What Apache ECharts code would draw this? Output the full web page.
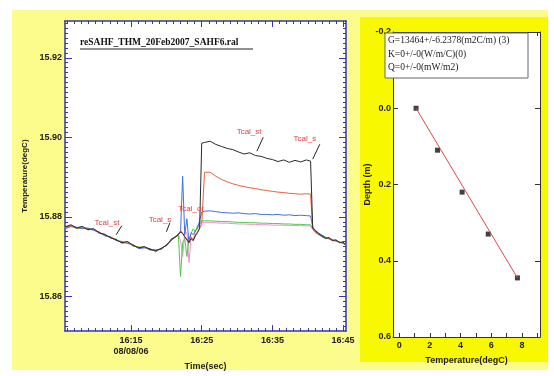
<!DOCTYPE html>
<html><head><meta charset="utf-8">
<script src="https://cdn.jsdelivr.net/npm/echarts@6/dist/echarts.min.js"></script>
<style>html,body{margin:0;padding:0;background:#fff}#c{width:554px;height:376px}</style>
</head><body><div id="c"></div>
<script>
// ---- data (time in minutes after 16:00) ----
const timeMin = [5.7,6.5,7.3,8.1,8.9,9.7,10.5,11.3,12.1,12.9,13.7,14.5,15.3,16.1,16.9,17.7,18.5,19.3,20.1,20.7,21.3,21.7,
22.0,22.3,22.6,22.9,23.2,23.5,23.8,24.1,24.4,24.7,
25.0,25.4,
26.2,27.0,27.8,28.6,29.4,30.2,31.0,31.8,32.6,33.4,34.2,35.0,35.8,36.6,37.4,38.2,39.0,39.8,
40.4,40.7,41.0,41.5,42.0,42.5,43.0,43.5,44.0,44.5,45.0,45.3];
const tBlack = [15.8775,15.8780,15.8772,15.8776,15.8768,15.8770,15.8760,15.8755,15.8748,15.8742,15.8735,15.8738,15.8728,15.8722,15.8725,15.8718,15.8715,15.8720,15.8730,15.8742,15.8750,15.8755,
15.8762,15.8758,15.8750,15.8742,15.8735,15.8745,15.8740,15.8752,15.8760,15.8770,
15.8985,15.8987,
15.8990,15.8982,15.8977,15.8972,15.8969,15.8963,15.8958,15.8961,15.8954,15.8952,15.8947,15.8944,15.8939,15.8943,15.8937,15.8942,15.8938,15.8943,
15.8940,15.8772,15.8766,15.8758,15.8752,15.8746,15.8748,15.8740,15.8742,15.8735,15.8737,15.8730];
const tRed = [15.8773,15.8777,15.8771,15.8774,15.8767,15.8769,15.8761,15.8754,15.8747,15.8743,15.8734,15.8737,15.8727,15.8723,15.8724,15.8717,15.8716,15.8719,15.8731,15.8741,15.8749,15.8754,
15.8765,15.8760,15.8748,15.8745,15.8738,15.8748,15.8742,15.8755,15.8762,15.8772,
15.8780,15.8912,
15.8912,15.8902,15.8894,15.8888,15.8883,15.8879,15.8876,15.8873,15.8871,15.8868,15.8866,15.8864,15.8862,15.8861,15.8859,15.8858,15.8857,15.8858,
15.8857,15.8770,15.8764,15.8757,15.8750,15.8747,15.8745,15.8741,15.8740,15.8736,15.8734,15.8731];
const tBlue = [15.8770,15.8776,15.8774,15.8770,15.8772,15.8766,15.8762,15.8752,15.8750,15.8740,15.8738,15.8733,15.8730,15.8720,15.8722,15.8720,15.8712,15.8722,15.8728,15.8745,15.8748,15.8758,
15.8760,15.8902,15.8755,15.8795,15.8735,15.8760,15.8755,15.8765,15.8770,15.8790,
15.8812,15.8814,
15.8815,15.8813,15.8811,15.8810,15.8809,15.8810,15.8808,15.8807,15.8808,15.8806,15.8806,15.8805,15.8806,15.8804,15.8805,15.8803,15.8804,15.8803,
15.8802,15.8775,15.8767,15.8760,15.8754,15.8749,15.8745,15.8743,15.8739,15.8737,15.8733,15.8731];
const tGreen = [15.8772,15.8778,15.8770,15.8772,15.8770,15.8768,15.8758,15.8757,15.8746,15.8744,15.8733,15.8736,15.8726,15.8724,15.8723,15.8716,15.8717,15.8718,15.8732,15.8740,15.8752,15.8752,
15.8650,15.8735,15.8745,15.8700,15.8745,15.8758,15.8770,15.8762,15.8778,15.8785,
15.8790,15.8790,
15.8790,15.8789,15.8788,15.8788,15.8787,15.8786,15.8786,15.8785,15.8785,15.8784,15.8784,15.8783,15.8783,15.8782,15.8782,15.8781,15.8781,15.8780,
15.8780,15.8770,15.8762,15.8756,15.8750,15.8745,15.8746,15.8740,15.8741,15.8735,15.8736,15.8730];
const tPink = [15.8771,15.8775,15.8773,15.8771,15.8769,15.8767,15.8759,15.8753,15.8749,15.8741,15.8736,15.8734,15.8729,15.8721,15.8723,15.8719,15.8714,15.8721,15.8729,15.8743,15.8751,15.8756,
15.8740,15.8700,15.8760,15.8760,15.8685,15.8750,15.8740,15.8765,15.8772,15.8780,
15.8786,15.8786,
15.8786,15.8785,15.8784,15.8784,15.8783,15.8782,15.8782,15.8781,15.8781,15.8780,15.8780,15.8779,15.8779,15.8779,15.8778,15.8778,15.8778,15.8777,
15.8777,15.8768,15.8761,15.8755,15.8751,15.8746,15.8744,15.8741,15.8738,15.8736,15.8733,15.8730];

const leftXTicks = [15,25,35,45];
const leftYTicks = [15.86,15.88,15.90,15.92];
const dateLabel = '08/08/06';
const titleText = 'reSAHF_THM_20Feb2007_SAHF6.ral';

// annotations: label anchor and leader line, in data coordinates
const annText = ['Tcal_st','Tcal_s','Tcal_or','Tcal_st','Tcal_s'];
const annAt = [[11.6,15.8785],[19.1,15.87925],[23.5,15.8820],[31.7,15.9015],[39.6,15.8995]];
const annLine = [[[13.7,15.87775],[12.9,15.8755]],[[20.5,15.8785],[20.0,15.87625]],null,[[33.7,15.9000],[32.8,15.8965]],[[41.7,15.89825],[40.7,15.8945]]];

// right panel
const depthTemp = [1.1, 2.5, 4.1, 5.8, 7.7];
const depthVal = [0.0, 0.11, 0.22, 0.33, 0.445];
const fitTemp = [1.1, 7.7];
const fitDepth = [0.0, 0.445];
const rightXLabels = [0,2,4,6,8];
const rightXTicks = [0,1,2,3,4,5,6,7,8,9];
const rightYTicks = [-0.2,0,0.2,0.4,0.6];
const legendLines = ['G=13464+/-6.2378(m2C/m) (3)','K=0+/-0(W/m/C)(0)','Q=0+/-0(mW/m2)'];

// ---- helpers ----
const zip = (a,b) => a.map((v,i)=>[v,b[i]]);
const BLUE = '#3434b4';
const DARK = '#333';
const lbl = {fontFamily:'Liberation Sans', fontWeight:'bold', fontSize:9, color:'#222'};
const minorX = []; for (let k=6;k<=45;k++) minorX.push(k);
const minorY = []; for (let k=0;k<=64;k++){ const v=+(15.85+k*0.00125).toFixed(5); if (v>15.8513 && v<15.9292) minorY.push(v); }

const X0 = {min:5.66, max:45.41};
const Y0 = {min:15.85125, max:15.92925};

function ax(extra){
  const o = Object.assign({type:'value', splitLine:{show:false}, axisLabel:{show:false}, axisTick:{show:false}}, extra);
  o.axisLine = Object.assign({show:false, onZero:false}, extra.axisLine || {});
  return o;
}

const chart = echarts.init(document.getElementById('c'), null, {renderer:'canvas'});
const option = {
  animation:false,
  backgroundColor:'#ffffff',
  grid:[
    {left:65, top:21, width:281, height:312, show:true, backgroundColor:'#ffffff', borderWidth:0},
    {left:393, top:32, width:147, height:305, show:true, backgroundColor:'#ffffff', borderWidth:0}
  ],
  xAxis:[
    ax({gridIndex:0, position:'bottom', min:X0.min, max:X0.max,
      axisLine:{show:true, lineStyle:{color:BLUE, width:1.5}},
      axisTick:{show:true, inside:true, length:6, customValues:leftXTicks, lineStyle:{color:BLUE}},
      axisLabel:{show:true, customValues:leftXTicks, margin:4, ...lbl,
        formatter:v => (v===15 ? '16:15\n'+dateLabel : '16:'+v), lineHeight:11},
      name:'Time(sec)', nameLocation:'middle', nameGap:28, nameTextStyle:{...lbl}}),
    ax({gridIndex:0, position:'bottom', min:X0.min, max:X0.max,
      axisTick:{show:true, inside:true, length:3, customValues:minorX, lineStyle:{color:BLUE}}}),
    ax({gridIndex:0, position:'top', min:X0.min, max:X0.max,
      axisLine:{show:true, lineStyle:{color:BLUE, width:1.5}},
      axisTick:{show:true, inside:true, length:6, customValues:leftXTicks, lineStyle:{color:BLUE}}}),
    ax({gridIndex:0, position:'top', min:X0.min, max:X0.max,
      axisTick:{show:true, inside:true, length:3, customValues:minorX, lineStyle:{color:BLUE}}}),
    ax({gridIndex:1, position:'bottom', min:-0.4, max:9.17,
      axisLine:{show:true, lineStyle:{color:DARK}},
      axisTick:{show:true, inside:true, length:4, customValues:rightXTicks, lineStyle:{color:DARK}},
      axisLabel:{show:true, customValues:rightXLabels, margin:4, ...lbl},
      name:'Temperature(degC)', nameLocation:'middle', nameGap:19, nameTextStyle:{...lbl}}),
    ax({gridIndex:1, position:'top', min:-0.4, max:9.17,
      axisLine:{show:true, lineStyle:{color:DARK}},
      axisTick:{show:true, inside:true, length:4, customValues:rightXTicks, lineStyle:{color:DARK}}})
  ],
  yAxis:[
    ax({gridIndex:0, position:'left', min:Y0.min, max:Y0.max,
      axisLine:{show:true, lineStyle:{color:BLUE, width:1.5}},
      axisTick:{show:true, inside:true, length:7, customValues:leftYTicks, lineStyle:{color:BLUE}},
      axisLabel:{show:true, customValues:leftYTicks, margin:3, ...lbl, formatter:v=>v.toFixed(2)},
      name:'Temperature(degC)', nameLocation:'middle', nameGap:33, nameTextStyle:{...lbl, fontSize:8}}),
    ax({gridIndex:0, position:'left', min:Y0.min, max:Y0.max,
      axisTick:{show:true, inside:true, length:3, customValues:minorY, lineStyle:{color:BLUE}}}),
    ax({gridIndex:0, position:'right', min:Y0.min, max:Y0.max,
      axisLine:{show:true, lineStyle:{color:BLUE, width:1.5}},
      axisTick:{show:true, inside:true, length:7, customValues:leftYTicks, lineStyle:{color:BLUE}}}),
    ax({gridIndex:0, position:'right', min:Y0.min, max:Y0.max,
      axisTick:{show:true, inside:true, length:3, customValues:minorY, lineStyle:{color:BLUE}}}),
    ax({gridIndex:1, position:'left', min:-0.2, max:0.6, inverse:true,
      axisLine:{show:true, lineStyle:{color:DARK}},
      axisTick:{show:true, inside:true, length:5, customValues:rightYTicks, lineStyle:{color:DARK}},
      axisLabel:{show:true, customValues:rightYTicks, margin:2, ...lbl, formatter:v=>v.toFixed(1)},
      name:'Depth (m)', nameLocation:'middle', nameGap:16, nameTextStyle:{...lbl}}),
    ax({gridIndex:1, position:'right', min:-0.2, max:0.6, inverse:true,
      axisLine:{show:true, lineStyle:{color:DARK}},
      axisTick:{show:true, inside:true, length:5, customValues:rightYTicks, lineStyle:{color:DARK}}})
  ],
  series:[
    {type:'line', xAxisIndex:0, yAxisIndex:0, data:zip(timeMin,tPink), showSymbol:false, lineStyle:{color:'#f090d0', width:1}},
    {type:'line', xAxisIndex:0, yAxisIndex:0, data:zip(timeMin,tGreen), showSymbol:false, lineStyle:{color:'#50c850', width:1}},
    {type:'line', xAxisIndex:0, yAxisIndex:0, data:zip(timeMin,tBlue), showSymbol:false, lineStyle:{color:'#4070e0', width:1}},
    {type:'line', xAxisIndex:0, yAxisIndex:0, data:zip(timeMin,tRed), showSymbol:false, lineStyle:{color:'#e8603c', width:1}},
    {type:'line', xAxisIndex:0, yAxisIndex:0, data:zip(timeMin,tBlack), showSymbol:false, lineStyle:{color:'#2a2a2a', width:1}},
    {type:'line', xAxisIndex:4, yAxisIndex:4, data:zip(fitTemp,fitDepth), showSymbol:false, lineStyle:{color:'#e04848', width:1}},
    {type:'scatter', xAxisIndex:4, yAxisIndex:4, data:zip(depthTemp,depthVal), symbol:'rect', symbolSize:5, itemStyle:{color:'#111'}}
  ]
};
chart.setOption(option);

// backgrounds, title, legend box, annotations
const g = [
  {type:'rect', z:-100, shape:{x:12,y:10,width:536,height:360}, style:{fill:'#fcfc8c'}},
  {type:'rect', z:-99, shape:{x:360,y:17,width:188,height:345}, style:{fill:'#f8f800'}},
  {type:'text', z:50, x:80, y:38, style:{text:titleText, font:'bold 9.5px "Liberation Serif"', fill:'#111'}},
  {type:'line', z:50, shape:{x1:80,y1:49,x2:253,y2:49}, style:{stroke:'#222', lineWidth:1}},
  {type:'rect', z:60, shape:{x:385,y:33,width:143,height:45}, style:{fill:'#fff', stroke:'#666', lineWidth:1}},
];
legendLines.forEach((s,i)=>g.push({type:'text', z:61, x:388, y:35.5+i*13.5, style:{text:s, font:'9.5px "Liberation Serif"', fill:'#222'}}));
annText.forEach((s,i)=>{
  const p = chart.convertToPixel({xAxisIndex:0, yAxisIndex:0}, annAt[i]);
  g.push({type:'text', z:50, x:p[0], y:p[1], style:{text:s, font:'8px "Liberation Sans"', fill:'#e04040', align:'center', verticalAlign:'middle'}});
  if (annLine[i]) {
    const a = chart.convertToPixel({xAxisIndex:0, yAxisIndex:0}, annLine[i][0]);
    const b = chart.convertToPixel({xAxisIndex:0, yAxisIndex:0}, annLine[i][1]);
    g.push({type:'line', z:50, shape:{x1:a[0],y1:a[1],x2:b[0],y2:b[1]}, style:{stroke:'#222', lineWidth:1}});
  }
});
chart.setOption({graphic:{elements:g}});
</script>
</body></html>
